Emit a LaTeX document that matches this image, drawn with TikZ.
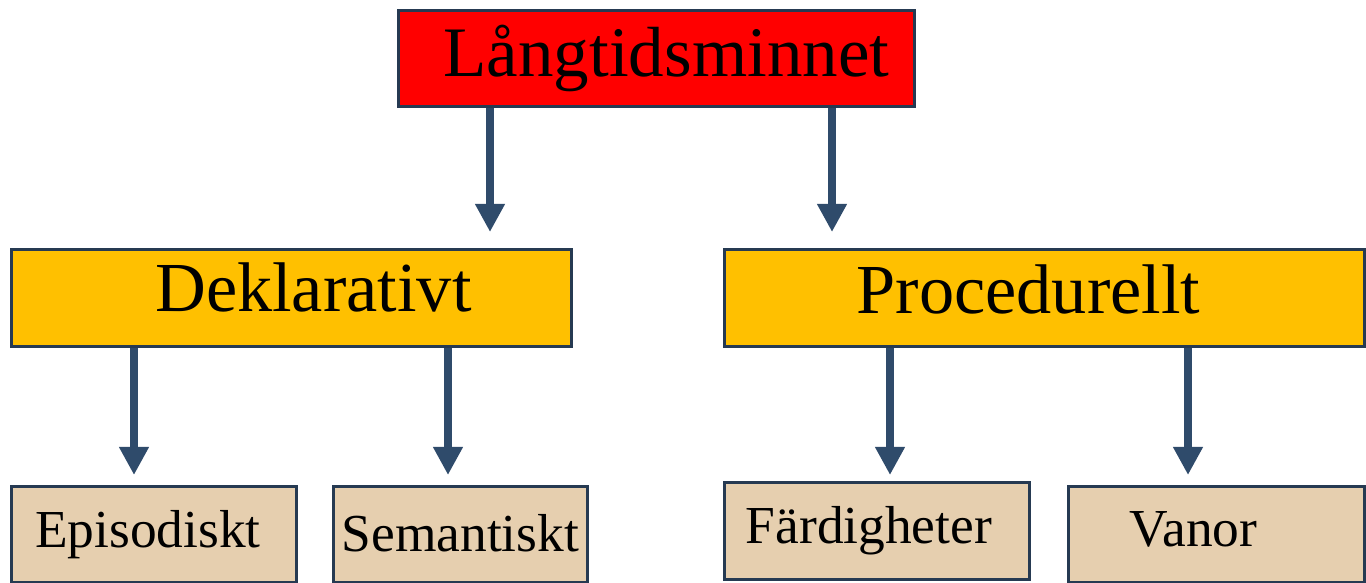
\documentclass[tikz,border=0pt]{standalone}
\usepackage{fontspec}
\setmainfont{Liberation Serif}
\usepackage{xcolor}
\usetikzlibrary{positioning,calc,arrows.meta}

\definecolor{boxline}{HTML}{263A52}
\definecolor{arrowblue}{HTML}{2F4B6B}
\definecolor{goldfill}{HTML}{FFC000}
\definecolor{tanfill}{HTML}{E6CFAF}

\tikzset{
    box/.style={draw=boxline, line width=0.8pt, inner sep=0pt, anchor=north west},
    topbox/.style={box, fill=red, font=\fontsize{20.2}{24}\selectfont},
    midbox/.style={box, fill=goldfill, font=\fontsize{20}{24}\selectfont},
    leafbox/.style={box, fill=tanfill, font=\fontsize{15.2}{18}\selectfont},
    arrow/.style={draw=arrowblue, line width=2.3pt,
        -{Triangle[length=8pt,width=8pt]}, color=arrowblue}
}

\begin{document}
\begin{tikzpicture}
    \useasboundingbox (0,0) rectangle (13.66,-5.82);

    % Top level
    \node[topbox, minimum width=5.16cm, minimum height=0.96cm] (ltm) at (3.97,-0.09) {\hspace*{0.2cm}Långtidsminnet};

    % Second level
    \node[midbox, minimum width=5.60cm, minimum height=0.97cm] (dekl) at (0.10,-2.48) {\hspace*{0.44cm}\raisebox{0.22cm}{Deklarativt}};
    \node[midbox, minimum width=6.40cm, minimum height=0.97cm] (proc) at (7.23,-2.48) {\raisebox{0.18cm}{Procedurellt}\hspace*{0.32cm}};

    % Leaves
    \node[leafbox, minimum width=2.85cm, minimum height=0.96cm] (epi) at (0.10,-4.85) {Episodiskt\hspace*{0.12cm}};
    \node[leafbox, minimum width=2.54cm, minimum height=0.96cm] (sem) at (3.32,-4.85) {\raisebox{0.03cm}{Semantiskt}};
    \node[leafbox, minimum width=3.05cm, minimum height=0.97cm] (fard) at (7.23,-4.81) {Färdigheter\hspace*{0.16cm}};
    \node[leafbox, minimum width=2.96cm, minimum height=0.96cm] (van) at (10.67,-4.85) {\raisebox{0.1cm}{Vanor}\hspace*{0.46cm}};

    % Arrows
    \draw[arrow, shorten >=0.16cm] (ltm.south -| 4.90,0) -- (dekl.north -| 4.90,0);
    \draw[arrow, shorten >=0.16cm] (ltm.south -| 8.32,0) -- (proc.north -| 8.32,0);
    \draw[arrow, shorten >=0.10cm] (dekl.south -| 1.34,0) -- (epi.north -| 1.34,0);
    \draw[arrow, shorten >=0.10cm] (dekl.south -| 4.48,0) -- (sem.north -| 4.48,0);
    \draw[arrow, shorten >=0.06cm] (proc.south -| 8.90,0) -- (fard.north -| 8.90,0);
    \draw[arrow, shorten >=0.10cm] (proc.south -| 11.88,0) -- (van.north -| 11.88,0);
\end{tikzpicture}
\end{document}
